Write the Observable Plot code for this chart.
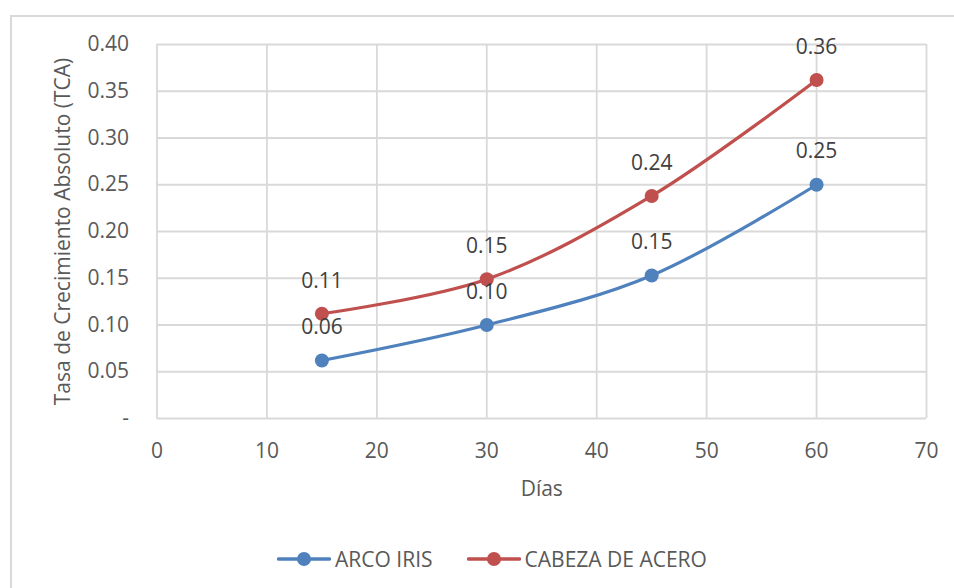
<!DOCTYPE html>
<html>
<head>
<meta charset="utf-8">
<script src="https://cdn.jsdelivr.net/npm/d3@7"></script>
<script src="https://cdn.jsdelivr.net/npm/@observablehq/plot@0.6"></script>
<style>
  html, body { margin: 0; padding: 0; background: #fff; }
  body { width: 954px; height: 588px; position: relative; overflow: hidden; font-family: "Open Sans", sans-serif; }
  #frame { position: absolute; left: 10px; top: 15px; width: 960px; height: 600px;
           border-left: 2px solid #d9d9d9; border-top: 2px solid #d9d9d9; box-sizing: border-box; }
  #chart { position: absolute; left: 0; top: 0; }
  #legend { position: absolute; left: 15px; top: 545px; width: 954px; display: flex; justify-content: center;
            font-size: 21px; color: #595959; }
  .item { display: flex; align-items: center; margin: 0 17px; }
  .item svg { margin-right: 4px; }
</style>
</head>
<body>
<div id="frame"></div>
<div id="chart"></div>
<div id="legend"></div>
<script>
// Días de medición y tasa de crecimiento absoluto por variedad
const dias = [15, 30, 45, 60];
const arcoIris = [0.062, 0.100, 0.153, 0.250];
const cabezaAcero = [0.112, 0.149, 0.238, 0.362];
const seriesNames = ["ARCO IRIS", "CABEZA DE ACERO"];
const seriesColors = ["#4f81bd", "#c0504d"];
const xTicks = [0, 10, 20, 30, 40, 50, 60, 70];
const yTicks = [0, 0.05, 0.10, 0.15, 0.20, 0.25, 0.30, 0.35, 0.40];

const rows = [
  ...dias.map((d, i) => ({dia: d, tca: arcoIris[i], serie: seriesNames[0]})),
  ...dias.map((d, i) => ({dia: d, tca: cabezaAcero[i], serie: seriesNames[1]}))
];

const textColor = "#595959";
const gridColor = "#d9d9d9";
const fs = 21;

const chart = Plot.plot({
  width: 954,
  height: 530,
  marginLeft: 156.5,
  marginRight: 28,
  marginTop: 44,
  marginBottom: 112,
  style: {fontFamily: "Open Sans, sans-serif", fontSize: fs + "px", color: textColor, background: "transparent"},
  x: {domain: [0, 70], ticks: xTicks},
  y: {domain: [0, 0.4], ticks: yTicks},
  color: {domain: seriesNames, range: seriesColors},
  marks: [
    Plot.gridX(xTicks, {stroke: gridColor, strokeOpacity: 1, strokeWidth: 1.8}),
    Plot.gridY(yTicks, {stroke: gridColor, strokeOpacity: 1, strokeWidth: 1.8}),
    Plot.axisX(xTicks, {tickSize: 0, tickPadding: 25, fill: textColor, label: null, fontSize: fs}),
    Plot.axisY(yTicks, {tickSize: 0, tickPadding: 28, fill: textColor, label: null, fontSize: fs,
      tickFormat: d => d === 0 ? "-" : d.toFixed(2)}),
    Plot.text(["Días"], {frameAnchor: "bottom", dy: 77, fill: textColor, fontSize: fs}),
    Plot.text(["Tasa de Crecimiento Absoluto (TCA)"], {frameAnchor: "left", dx: -94, rotate: -90,
      fill: textColor, fontSize: fs, textAnchor: "middle"}),
    Plot.line(rows, {x: "dia", y: "tca", z: "serie", stroke: "serie", strokeWidth: 3.2, curve: "catmull-rom"}),
    Plot.dot(rows, {x: "dia", y: "tca", fill: "serie", r: 7, stroke: null}),
    Plot.text(rows, {x: "dia", y: "tca", text: d => d.tca.toFixed(2), dy: -33, fill: "#404040", fontSize: fs})
  ]
});
document.getElementById("chart").appendChild(chart);

// Leyenda
const legend = document.getElementById("legend");
seriesNames.forEach((name, i) => {
  const item = document.createElement("div");
  item.className = "item";
  item.innerHTML = `<svg width="54" height="20"><line x1="1.5" y1="10" x2="52.5" y2="10" stroke="${seriesColors[i]}" stroke-width="3.5" stroke-linecap="round"/><circle cx="27" cy="10" r="7" fill="${seriesColors[i]}"/></svg><span>${name}</span>`;
  legend.appendChild(item);
});
</script>
</body>
</html>
